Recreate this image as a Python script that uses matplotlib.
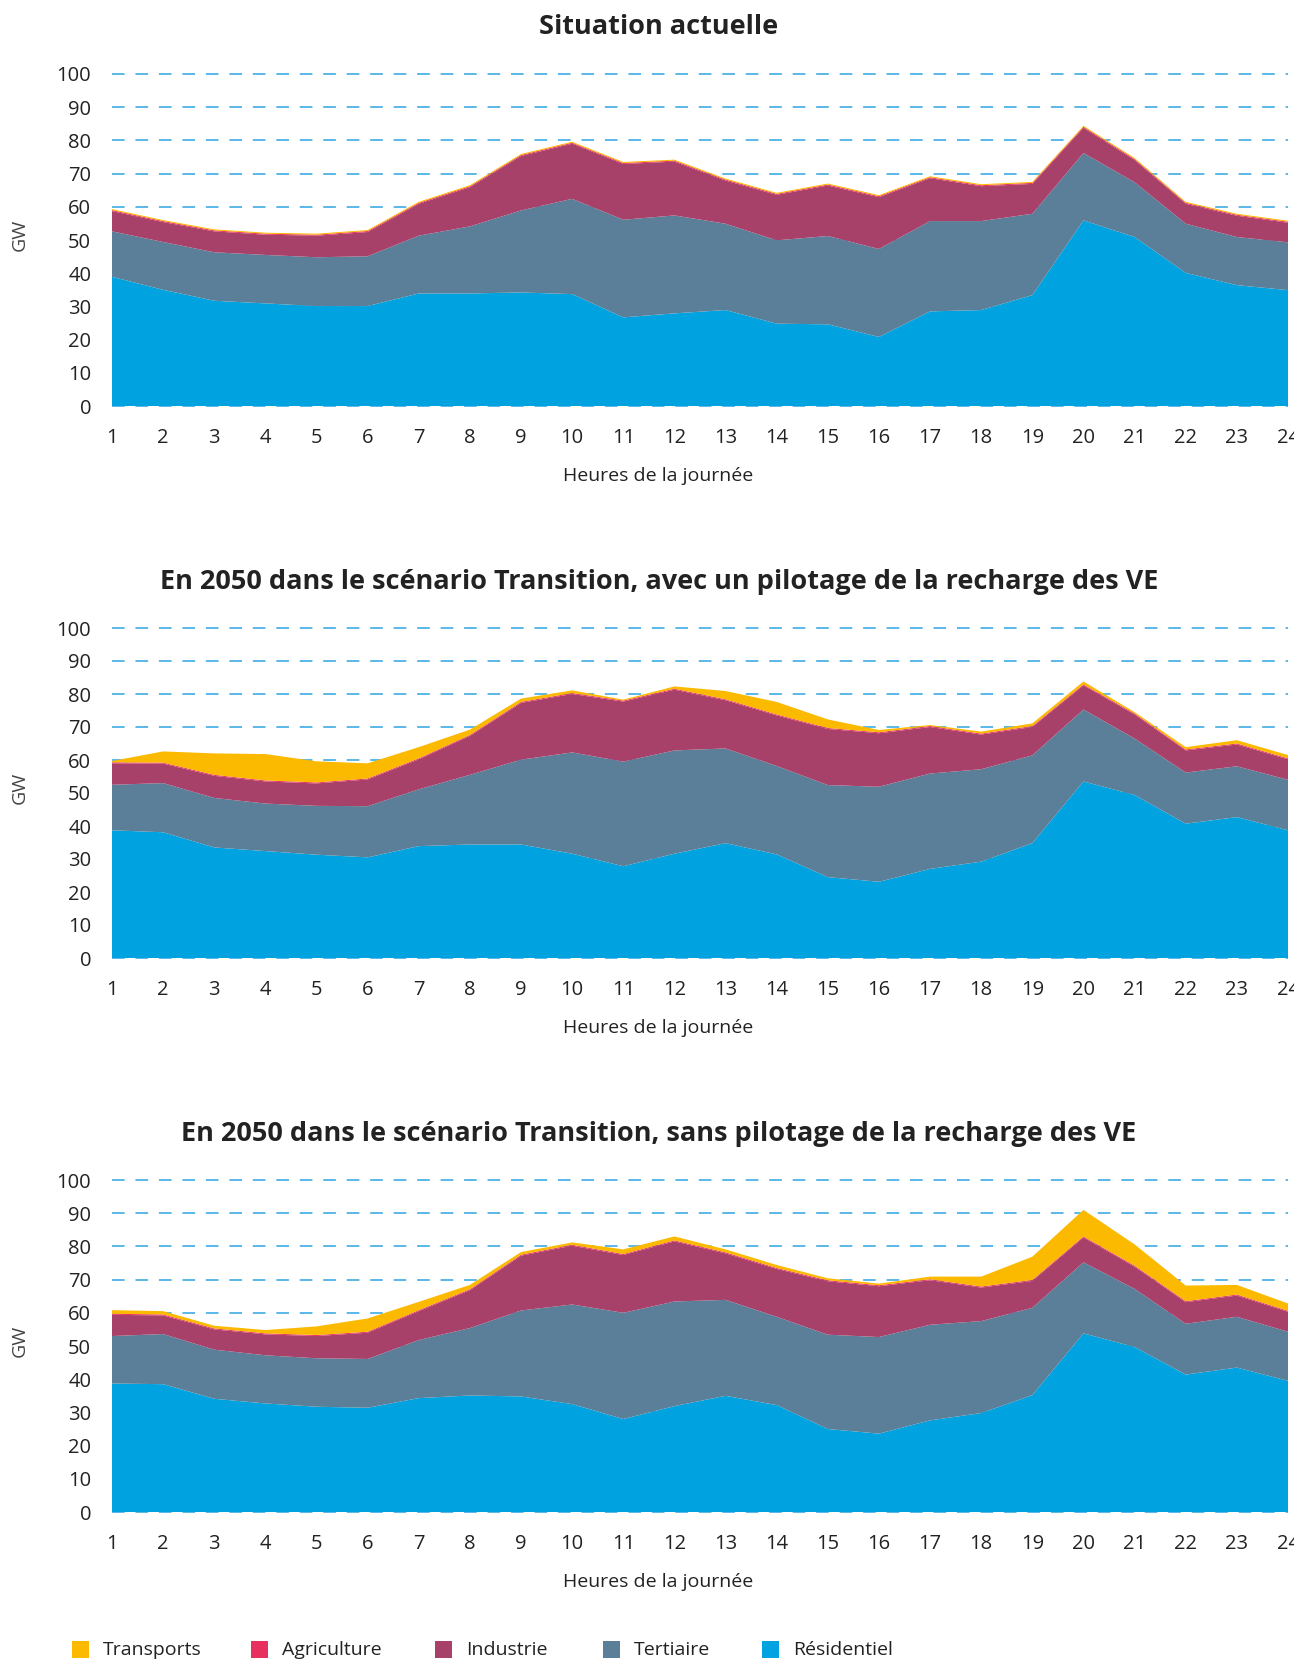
import matplotlib
matplotlib.use("Agg")
import matplotlib.pyplot as plt
from matplotlib.patches import Rectangle
from matplotlib.transforms import Bbox, TransformedBbox

hours = list(range(1, 25))
series_names = ["Résidentiel", "Tertiaire", "Industrie", "Agriculture", "Transports"]
colors = ["#00A3E0", "#5B7F98", "#A8416A", "#E8305F", "#FBB900"]

titles = ["Situation actuelle",
          "En 2050 dans le scénario Transition, avec un pilotage de la recharge des VE",
          "En 2050 dans le scénario Transition, sans pilotage de la recharge des VE"]

# Panel 1 - current situation
res1 = [38.9, 35.0, 31.7, 30.9, 30.1, 30.1, 33.9, 33.9, 34.2, 33.7, 26.7, 27.9,
        28.9, 24.8, 24.6, 20.8, 28.5, 28.9, 33.4, 55.9, 50.9, 40.1, 36.4, 34.9]
tert1 = [13.7, 14.4, 14.6, 14.6, 14.7, 15.0, 17.4, 20.2, 24.7, 28.7, 29.4, 29.5,
         26.0, 25.1, 26.6, 26.5, 27.2, 26.8, 24.5, 20.3, 16.5, 14.8, 14.5, 14.4]
ind1 = [6.1, 6.0, 6.3, 6.1, 6.5, 7.3, 9.6, 11.8, 16.4, 16.6, 16.8, 16.2,
        13.0, 13.7, 15.2, 15.6, 12.9, 10.5, 9.0, 7.6, 6.7, 6.0, 6.4, 5.9]
agri1 = [0.3] * 24
trans1 = [0.3, 0.3, 0.3, 0.3, 0.3, 0.3, 0.3, 0.3, 0.3, 0.3, 0.3, 0.3,
          0.3, 0.3, 0.3, 0.3, 0.3, 0.3, 0.3, 0.3, 0.3, 0.3, 0.3, 0.3]

# Panel 2 - 2050 with smart charging
res2 = [38.7, 38.1, 33.5, 32.4, 31.3, 30.5, 33.9, 34.4, 34.4, 31.6, 27.8, 31.6,
        34.8, 31.4, 24.5, 23.1, 27.0, 29.2, 34.8, 53.5, 49.4, 40.7, 42.7, 38.7]
tert2 = [13.8, 14.9, 15.0, 14.4, 14.8, 15.5, 17.2, 21.1, 25.7, 30.7, 31.7, 31.3,
         28.7, 26.8, 27.9, 28.8, 28.9, 28.0, 26.6, 21.8, 17.1, 15.5, 15.4, 15.3]
ind2 = [6.5, 5.9, 6.7, 6.7, 6.8, 8.1, 9.1, 11.8, 17.2, 17.7, 18.2, 18.4,
        14.6, 15.3, 17.0, 16.2, 14.1, 10.5, 8.6, 7.3, 7.3, 6.7, 6.6, 6.2]
agri2 = [0.3] * 24
trans2 = [0.4, 3.4, 6.5, 8.0, 6.4, 4.6, 3.4, 1.6, 1.0, 0.8, 0.3, 0.7,
          2.5, 3.8, 2.6, 0.7, 0.3, 0.6, 0.8, 0.9, 0.4, 0.7, 1.0, 1.0]

# Panel 3 - 2050 without smart charging
res3 = [38.7, 38.5, 34.1, 32.7, 31.7, 31.4, 34.3, 35.1, 34.8, 32.5, 28.0, 31.9,
        35.0, 32.2, 25.0, 23.6, 27.6, 29.8, 35.2, 53.8, 49.7, 41.4, 43.5, 39.5]
tert3 = [14.3, 15.1, 14.8, 14.5, 14.6, 14.7, 17.5, 20.3, 25.9, 30.0, 32.0, 31.5,
         28.9, 26.6, 28.4, 29.1, 28.8, 27.7, 26.3, 21.4, 17.5, 15.3, 15.3, 14.8]
ind3 = [6.4, 5.6, 6.1, 6.3, 6.7, 7.9, 8.7, 11.4, 16.5, 17.7, 17.4, 18.1,
        14.0, 14.4, 16.1, 15.3, 13.4, 10.1, 8.1, 7.5, 6.7, 6.5, 6.4, 6.0]
agri3 = [0.3] * 24
trans3 = [1.1, 1.0, 0.8, 1.0, 2.6, 4.0, 2.5, 1.3, 0.8, 0.7, 1.4, 1.2,
          0.9, 0.9, 0.6, 0.5, 0.8, 3.0, 7.0, 8.0, 6.4, 4.7, 2.9, 2.2]

panels = [
    [res1, tert1, ind1, agri1, trans1],
    [res2, tert2, ind2, agri2, trans2],
    [res3, tert3, ind3, agri3, trans3],
]

yticks = list(range(0, 101, 10))
legend_order = ["Transports", "Agriculture", "Industrie", "Tertiaire", "Résidentiel"]

W, H = 1311, 1661
plt.rcParams['font.family'] = ['Open Sans', 'DejaVu Sans']
fig = plt.figure(figsize=(W / 100, H / 100), dpi=100)


def fx(px):
    return px / W


def fy(py):
    return 1 - py / H


left, right = 112, 1288
# (top px for y=100, bottom px for y=0, title y)
geoms = [(74, 406, 27), (628, 958, 582), (1180, 1512, 1134)]
clip = TransformedBbox(Bbox([[0, 0], [1294 / W, 1]]), fig.transFigure)

for data, (top, bot, ty), title in zip(panels, geoms, titles):
    ax = fig.add_axes([fx(left), fy(bot), fx(right) - fx(left), (bot - top) / H])
    ax.stackplot(hours, *data, colors=colors, linewidth=0)
    ax.set_xlim(1, 24)
    ax.set_ylim(0, 100)
    ax.set_yticks(yticks)
    ax.set_xticks(hours)
    ax.set_axisbelow(True)
    ax.yaxis.grid(True, linestyle=(0, (7, 6)), color='#4DB2E6', lw=1.3)
    ax.xaxis.grid(False)
    for s in ax.spines.values():
        s.set_visible(False)
    ax.tick_params(axis='both', length=0, labelsize=14.5, colors='#222222')
    ax.tick_params(axis='x', pad=16)
    ax.tick_params(axis='y', pad=15)
    for gl in ax.get_ygridlines():
        gl.set_clip_on(False)
    for lab in ax.get_xticklabels():
        lab.set_clip_on(True)
        lab.set_clip_box(clip)
    fig.text(fx(659), fy(ty), title, ha='center', va='center',
             fontsize=19.5, fontweight='bold', color='#222222')
    fig.text(fx(658), fy(bot + 70), "Heures de la journée", ha='center', va='center',
             fontsize=14, color='#222222')
    fig.text(fx(20), fy((top + bot) / 2 - 5), "GW", ha='center', va='center',
             rotation=90, fontsize=14, color='#444444')

# legend
leg_x = [72, 251, 435, 603, 762]
leg_y = 1650
for name, x in zip(legend_order, leg_x):
    c = colors[series_names.index(name)]
    fig.patches.append(Rectangle((fx(x), fy(leg_y + 8)), 17 / W, 17 / H,
                                 transform=fig.transFigure, facecolor=c, edgecolor='none'))
    fig.text(fx(x + 31), fy(leg_y), name, ha='left', va='center', fontsize=14,
             color='#222222')

fig.savefig("out.png", dpi=100)
